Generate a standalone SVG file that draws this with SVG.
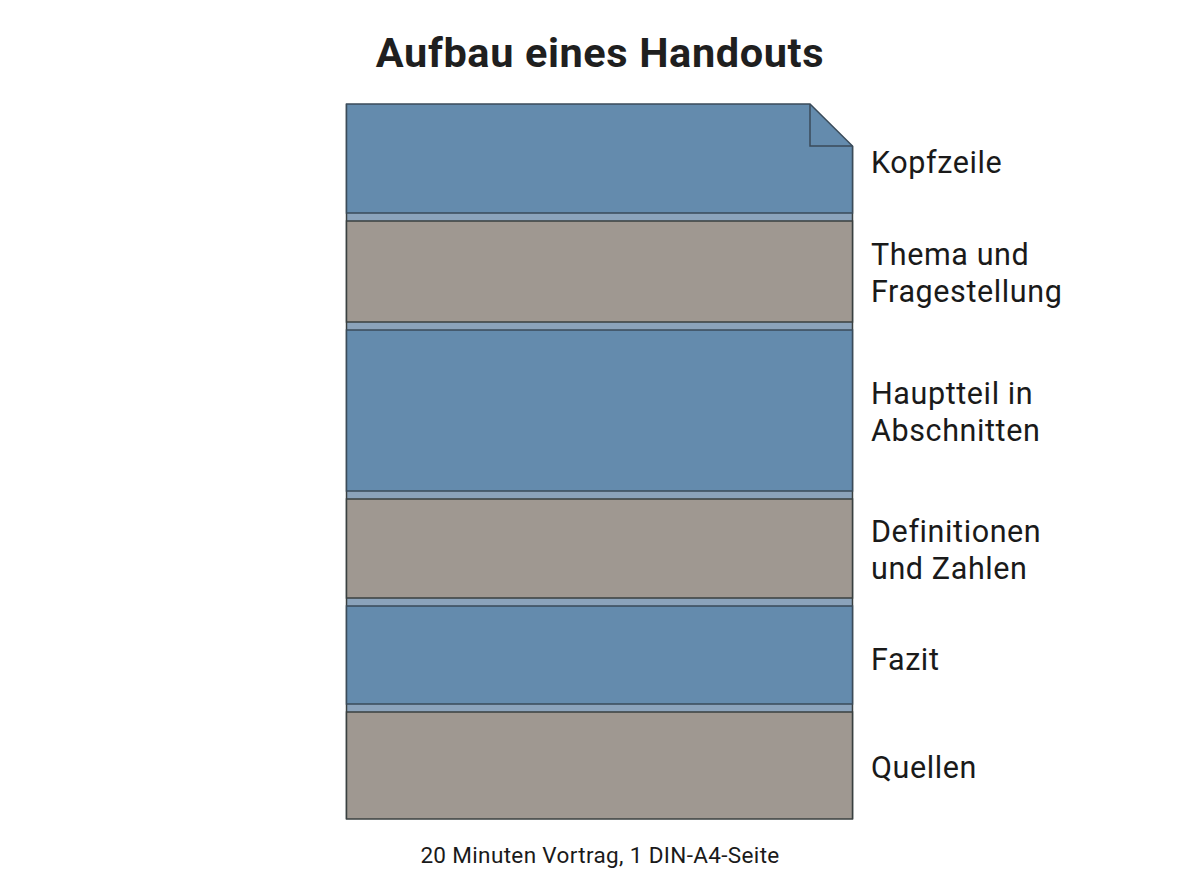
<svg xmlns="http://www.w3.org/2000/svg" width="1200" height="896" viewBox="0 0 1200 896">
<style>
.blue{fill:#648bad;stroke:#3a4b5a;stroke-width:1.5}
.tan{fill:#9f9891;stroke:#3a4040;stroke-width:1.5}
.strip{fill:#8ba3bb;stroke:none}
.lbl{font-family:Roboto,"Liberation Sans",sans-serif;font-size:30.5px;letter-spacing:0.6px;fill:#1a1a1a}
</style>
<rect width="1200" height="896" fill="#ffffff"/>
<text x="600" y="67" text-anchor="middle" font-family="Roboto,'Liberation Sans',sans-serif" font-size="41.5" font-weight="bold" letter-spacing="0.6" fill="#1f1f1f">Aufbau eines Handouts</text>
<g id="page">
<rect class="strip" x="346.5" y="213" width="506" height="606"/>
<line x1="346.5" y1="104" x2="346.5" y2="819" stroke="#3a4040" stroke-width="1.5"/>
<line x1="852.5" y1="146" x2="852.5" y2="819" stroke="#3a4040" stroke-width="1.5"/>
</g>
<g id="kopfzeile">
<path class="blue" d="M346.5,104 H810 L852.5,146 V213 H346.5 Z"/>
<path d="M810,104 V146 H852.5" fill="none" stroke="#3a4b5a" stroke-width="1.5"/>
<text class="lbl" x="871" y="173">Kopfzeile</text>
</g>
<g id="thema">
<rect class="tan" x="346.5" y="221" width="506" height="101"/>
<text class="lbl" x="871" y="265">Thema und</text>
<text class="lbl" x="871" y="302">Fragestellung</text>
</g>
<g id="hauptteil">
<rect class="blue" x="346.5" y="330" width="506" height="161"/>
<text class="lbl" x="871" y="404">Hauptteil in</text>
<text class="lbl" x="871" y="441">Abschnitten</text>
</g>
<g id="definitionen">
<rect class="tan" x="346.5" y="499" width="506" height="99"/>
<text class="lbl" x="871" y="542">Definitionen</text>
<text class="lbl" x="871" y="579">und Zahlen</text>
</g>
<g id="fazit">
<rect class="blue" x="346.5" y="606" width="506" height="98"/>
<text class="lbl" x="871" y="670">Fazit</text>
</g>
<g id="quellen">
<rect class="tan" x="346.5" y="712" width="506" height="107"/>
<text class="lbl" x="871" y="778">Quellen</text>
</g>
<text x="600" y="863" text-anchor="middle" font-family="Roboto,'Liberation Sans',sans-serif" font-size="22.5" letter-spacing="0.35" fill="#1a1a1a">20 Minuten Vortrag, 1 DIN-A4-Seite</text>
</svg>
